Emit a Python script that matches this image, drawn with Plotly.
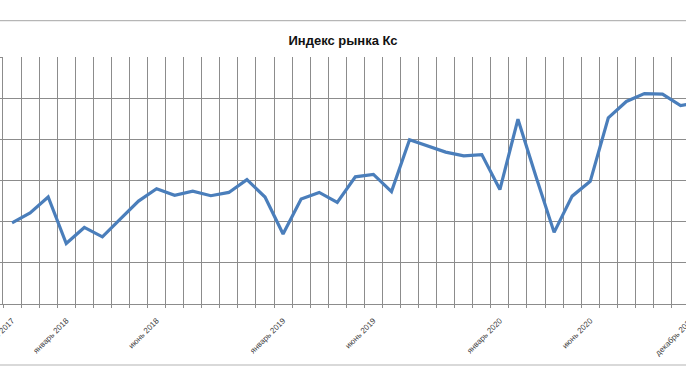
import plotly.graph_objects as go

# ---- data ----
month_names = ["январь", "февраль", "март", "апрель", "май", "июнь",
               "июль", "август", "сентябрь", "октябрь", "ноябрь", "декабрь"]
months = [f"{month_names[(9 + i) % 12]} {2017 + (9 + i) // 12}" for i in range(39)]

values = [1.97, 2.21, 2.60, 1.47, 1.86, 1.63, 2.07, 2.50, 2.80, 2.64,
          2.74, 2.63, 2.71, 3.02, 2.60, 1.70, 2.55, 2.71, 2.47, 3.09,
          3.15, 2.73, 3.99, 3.85, 3.69, 3.60, 3.63, 2.78, 4.49, 3.09,
          1.74, 2.62, 2.98, 4.52, 4.92, 5.11, 5.10, 4.82, 4.90]

labeled_months = ["октябрь 2017", "январь 2018", "июнь 2018", "январь 2019",
                  "июнь 2019", "январь 2020", "июнь 2020", "декабрь 2020"]

title_text = "Индекс рынка Кс"

# ---- layout constants ----
W, H = 686, 386
ML, MR, MT, MB = 3, 0, 57, 82
x_range = [-0.5, 37.3]
y_range = [0, 6]

x_idx = list(range(len(values)))
tickvals = [months.index(m) for m in labeled_months]
in_range = [(v, m) for v, m in zip(tickvals, labeled_months) if x_range[0] <= v <= x_range[1]]
out_range = [(v, m) for v, m in zip(tickvals, labeled_months) if not (x_range[0] <= v <= x_range[1])]

fig = go.Figure()
fig.add_trace(go.Scatter(
    x=x_idx, y=values, mode="lines",
    line=dict(color="#4A7EBB", width=3.2),
    hoverinfo="skip", showlegend=False,
))

grid = "#8c8c8c"
font_family = "Liberation Sans, Arial, sans-serif"
tick_font = dict(family=font_family, size=8, color="#404040")

fig.update_layout(
    width=W, height=H, autosize=False,
    margin=dict(l=ML, r=MR, t=MT, b=MB, pad=0),
    paper_bgcolor="white", plot_bgcolor="white",
    title=dict(text=f"<b>{title_text}</b>", x=0.5, xanchor="center",
               y=1 - 40 / H, yanchor="middle", yref="container",
               font=dict(family=font_family, size=13, color="#111111")),
    xaxis=dict(
        range=x_range, showgrid=False, zeroline=False,
        tickmode="array", tickvals=[v for v, _ in in_range],
        ticktext=[m for _, m in in_range],
        ticks="", tickangle=-45, automargin=False,
        ticklabeloverflow="allow", ticklabelstandoff=8,
        tickfont=tick_font,
        showline=True, linecolor=grid, linewidth=1,
        minor=dict(tickmode="linear", tick0=-0.5, dtick=1, showgrid=True,
                   gridcolor=grid, gridwidth=1, ticks="outside",
                   ticklen=3, tickcolor=grid),
    ),
    yaxis=dict(
        range=y_range, dtick=1, showgrid=True, gridcolor=grid, gridwidth=1,
        zeroline=False, showticklabels=False, ticks="outside", ticklen=4,
        tickcolor=grid, showline=True, linecolor=grid, automargin=False,
    ),
)

# label that falls beyond the visible right edge (clipped like the original)
for v, m in out_range:
    xp = (v - x_range[0]) / (x_range[1] - x_range[0])
    fig.add_annotation(
        x=xp, xref="paper", y=0, yref="paper", text=m, showarrow=False,
        textangle=-45, xanchor="right", yanchor="top", yshift=-8,
        font=tick_font,
    )

# chart-area frame lines
plot_h = H - MT - MB
def py(ypx):
    return (H - MB - ypx) / plot_h

fig.add_shape(type="line", xref="paper", yref="paper", x0=-0.01, x1=1.01,
              y0=py(20.7), y1=py(20.7), line=dict(color="#a6a6a6", width=1))
fig.add_shape(type="line", xref="paper", yref="paper", x0=-0.01, x1=1.01,
              y0=py(365), y1=py(365), line=dict(color="#d9d9d9", width=2))

fig.write_html("out.html")
